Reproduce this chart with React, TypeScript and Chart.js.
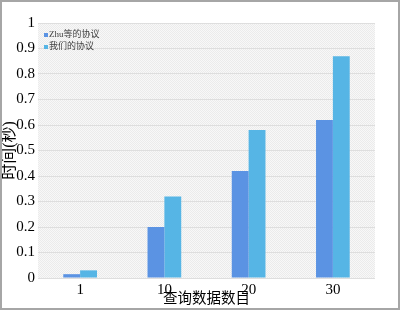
import React, { useEffect, useRef } from "react";
import { Chart, registerables } from "chart.js";

Chart.register(...registerables);

const categories = ["1", "10", "20", "30"];
const zhuValues = [0.015, 0.2, 0.42, 0.62];
const ourValues = [0.03, 0.32, 0.58, 0.87];
const seriesNames = ["Zhu等的协议", "我们的协议"];
const seriesColors = ["#5B93E3", "#56B5E5"];
const yTitle = "时间(秒)";
const xTitle = "查询数据数目";

const SERIF = "'Liberation Serif', 'Noto Sans CJK SC', serif";

const bgPlugin = {
  id: "bgPlugin",
  beforeDraw(chart: any) {
    const { ctx, chartArea } = chart;
    const pc = document.createElement("canvas");
    pc.width = 2;
    pc.height = 2;
    const p = pc.getContext("2d")!;
    p.fillStyle = "#f8f8f8";
    p.fillRect(0, 0, 2, 2);
    p.fillStyle = "#ebebeb";
    p.fillRect(0, 0, 1, 1);
    p.fillRect(1, 1, 1, 1);
    const pattern = ctx.createPattern(pc, "repeat");
    ctx.save();
    ctx.fillStyle = "#ffffff";
    ctx.fillRect(0, 0, chart.width, chart.height);
    ctx.fillStyle = pattern;
    ctx.fillRect(
      chartArea.left,
      chartArea.top,
      chartArea.right - chartArea.left,
      chartArea.bottom - chartArea.top
    );
    ctx.restore();
  },
  afterDraw(chart: any) {
    const { ctx, chartArea } = chart;
    ctx.save();
    ctx.strokeStyle = "#a6a6a6";
    ctx.lineWidth = 2;
    ctx.strokeRect(1, 1, chart.width - 2, chart.height - 2);
    // legend
    ctx.font = `9px ${SERIF}`;
    ctx.textBaseline = "middle";
    ctx.textAlign = "left";
    chart.data.datasets.forEach((ds: any, i: number) => {
      const cy = chartArea.top + 12 + i * 12;
      const x = chartArea.left + 6;
      ctx.fillStyle = ds.backgroundColor;
      ctx.fillRect(x, cy - 2, 4, 4);
      ctx.fillStyle = "#404040";
      ctx.fillText(ds.label, x + 5, cy);
    });
    ctx.restore();
  },
};

export default function App() {
  const ref = useRef<HTMLCanvasElement | null>(null);
  useEffect(() => {
    document.body.style.margin = "0";
    const chart = new Chart(ref.current!, {
      type: "bar",
      data: {
        labels: categories,
        datasets: [
          {
            label: seriesNames[0],
            data: zhuValues,
            backgroundColor: seriesColors[0],
            categoryPercentage: 0.4,
            barPercentage: 1,
          },
          {
            label: seriesNames[1],
            data: ourValues,
            backgroundColor: seriesColors[1],
            categoryPercentage: 0.4,
            barPercentage: 1,
          },
        ],
      },
      options: {
        animation: false,
        responsive: false,
        maintainAspectRatio: false,
        layout: { padding: { left: 0, right: 25, top: 23, bottom: 0 } },
        plugins: {
          legend: { display: false },
          tooltip: { enabled: false },
        },
        scales: {
          x: {
            grid: { display: false, drawTicks: false },
            border: { display: false },
            ticks: {
              color: "#000",
              font: { family: SERIF, size: 15 },
              padding: 3,
            },
            title: {
              display: true,
              text: xTitle,
              color: "#000",
              font: { family: SERIF, size: 14.5 },
              padding: { top: 0, bottom: 2 },
            },
            afterFit(scale: any) {
              scale.height = 32;
            },
          },
          y: {
            min: 0,
            max: 1,
            grid: { color: "#dedede", lineWidth: 1, drawTicks: false, tickLength: 0 },
            border: { display: false },
            ticks: {
              stepSize: 0.1,
              color: "#000",
              font: { family: SERIF, size: 15 },
              padding: 3,
              callback: (v: any) => String(Math.round(Number(v) * 10) / 10),
            },
            title: {
              display: true,
              text: yTitle,
              color: "#000",
              font: { family: SERIF, size: 16 },
              padding: { top: 0, bottom: 0 },
            },
            afterFit(scale: any) {
              scale.width = 38;
            },
          },
        },
      },
      plugins: [bgPlugin],
    });
    return () => chart.destroy();
  }, []);
  return <canvas ref={ref} width={400} height={310} style={{ display: "block" }} />;
}
